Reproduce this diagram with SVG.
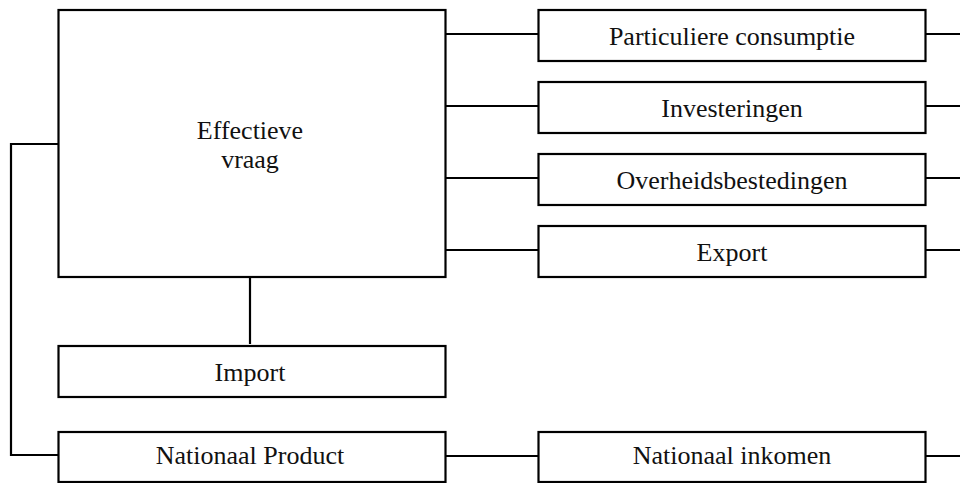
<svg xmlns="http://www.w3.org/2000/svg" width="960" height="483" viewBox="0 0 960 483">
<style>
.box{fill:#fff;stroke:#000;stroke-width:2.2}
.ln{stroke:#000;stroke-width:2.2;fill:none}
text{font-family:"Liberation Serif","Times New Roman",serif;font-size:26px;fill:#111;text-anchor:middle}
</style>
<rect width="960" height="483" fill="#fff"/>
<g id="connectors">
<line class="ln" x1="446" y1="34" x2="538" y2="34"/>
<line class="ln" x1="446" y1="106" x2="538" y2="106"/>
<line class="ln" x1="446" y1="178" x2="538" y2="178"/>
<line class="ln" x1="446" y1="250" x2="538" y2="250"/>
<line class="ln" x1="926" y1="34" x2="960" y2="34"/>
<line class="ln" x1="926" y1="106" x2="960" y2="106"/>
<line class="ln" x1="926" y1="178" x2="960" y2="178"/>
<line class="ln" x1="926" y1="250" x2="960" y2="250"/>
<line class="ln" x1="250" y1="277" x2="250" y2="344"/>
<polyline class="ln" points="58,144 11,144 11,455 58,455"/>
<line class="ln" x1="446" y1="456" x2="538" y2="456"/>
<line class="ln" x1="926" y1="456" x2="960" y2="456"/>
</g>
<g id="effectieve-vraag">
<rect class="box" x="58.5" y="10" width="387" height="267"/>
<text x="250" y="139">Effectieve</text>
<text x="250" y="168">vraag</text>
</g>
<g id="particuliere-consumptie">
<rect class="box" x="538.5" y="10" width="387" height="51"/>
<text x="732" y="45">Particuliere consumptie</text>
</g>
<g id="investeringen">
<rect class="box" x="538.5" y="82" width="387" height="51"/>
<text x="732" y="117">Investeringen</text>
</g>
<g id="overheidsbestedingen">
<rect class="box" x="538.5" y="154" width="387" height="51"/>
<text x="732" y="189">Overheidsbestedingen</text>
</g>
<g id="export">
<rect class="box" x="538.5" y="226" width="387" height="51"/>
<text x="732" y="261">Export</text>
</g>
<g id="import">
<rect class="box" x="58.5" y="346" width="387" height="51"/>
<text x="250" y="381">Import</text>
</g>
<g id="nationaal-product">
<rect class="box" x="58.5" y="432" width="387" height="50"/>
<text x="250" y="464">Nationaal Product</text>
</g>
<g id="nationaal-inkomen">
<rect class="box" x="538.5" y="432" width="387" height="50"/>
<text x="732" y="464">Nationaal inkomen</text>
</g>
</svg>
